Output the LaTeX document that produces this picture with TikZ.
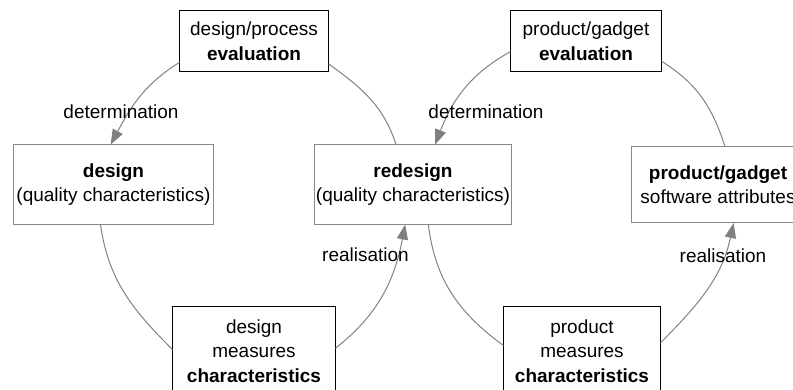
\documentclass[tikz,border=0pt]{standalone}
\usepackage{fontspec}
\setmainfont{Liberation Sans}
\usetikzlibrary{arrows.meta}
\definecolor{framegray}{RGB}{136,136,136}
\definecolor{arcgray}{RGB}{128,128,128}

\begin{document}
\begin{tikzpicture}[x=0.025cm, y=0.025cm,
    every node/.style={font=\fontsize{13.5}{17.4}\selectfont, align=center, inner sep=0pt},
    evalbox/.style={draw=black, line width=0.7pt, minimum height=1.5cm},
    qualbox/.style={draw=framegray, line width=0.7pt, minimum height=1.975cm},
    measbox/.style={draw=black, line width=0.7pt, minimum height=2.2cm},
    loopline/.style={draw=arcgray, line width=0.7pt},
    flowarrow/.style={-{Triangle[length=0.375cm, width=0.28cm, fill=arcgray]}}
]
    \useasboundingbox (0,0) rectangle (793,389);

    % evaluation boxes on top
    \node[evalbox, minimum width=3.7cm] (evalL) at (254,348) {design/process\\ \textbf{evaluation}};
    \node[evalbox, minimum width=3.75cm] (evalR) at (586,348) {product/gadget\\ \textbf{evaluation}};

    % quality boxes in the middle
    \node[qualbox, minimum width=4.975cm] (design) at (113.5,204.5) {\textbf{design}\\ (quality characteristics)};
    \node[qualbox, minimum width=4.9cm] (redesign) at (413,204.5) {\textbf{redesign}\\ (quality characteristics)};
    \node[qualbox, minimum width=4.3cm, minimum height=1.9cm] (gadget) at (718,204.5) {\textbf{product/gadget}\\ software attributes};

    % measures boxes at the bottom
    \node[measbox, minimum width=4.05cm] (measL) at (254,38) {design\\ measures\\ \textbf{characteristics}};
    \node[measbox, minimum width=3.9cm] (measR) at (582,38) {product\\ measures\\ \textbf{characteristics}};

    % left cycle
    \draw[loopline, flowarrow] (evalL.196) to[out=212, in=62] (design.94);
    \draw[loopline] (design.-108) to[out=-82, in=135] (measL.179);
    \draw[loopline, flowarrow] (measL.2) to[out=38, in=-101] (redesign.-101);
    \draw[loopline] (redesign.113) to[out=108, in=-36] (evalL.-17);

    % right cycle
    \draw[loopline, flowarrow] (evalR.188) to[out=209, in=69] (redesign.61);
    \draw[loopline] (redesign.-69) to[out=-83, in=144] (measR.176);
    \draw[loopline, flowarrow] (measR.6) to[out=45, in=-102] (gadget.-68);
    \draw[loopline] (gadget.80) to[out=108, in=-32] (evalR.-15);

    % labels
    \node (detL) at (121,277) {determination};
    \node (detR) at (486,277) {determination};
    \node (realL) at (365.5,134) {realisation};
    \node (realR) at (723,133) {realisation};
\end{tikzpicture}
\end{document}
